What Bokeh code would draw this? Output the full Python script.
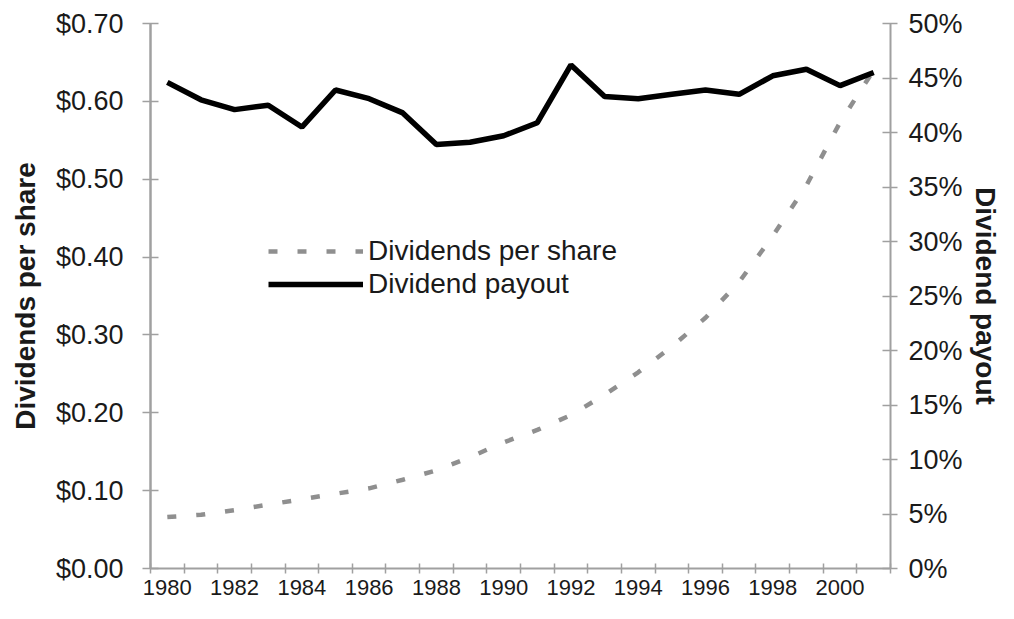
from bokeh.plotting import figure
from bokeh.models import (Range1d, LinearAxis, FixedTicker, NumeralTickFormatter,
                          Legend, LegendItem, ColumnDataSource)
from bokeh.embed import file_html
from bokeh.resources import INLINE

# ---- data ----
years = list(range(1980, 2002))
dividends_per_share = [0.066, 0.069, 0.075, 0.082, 0.089, 0.096, 0.103, 0.114,
                       0.126, 0.143, 0.162, 0.178, 0.197, 0.223, 0.252, 0.285,
                       0.322, 0.368, 0.427, 0.492, 0.573, 0.640]
dividend_payout = [0.446, 0.430, 0.421, 0.425, 0.405, 0.439, 0.431, 0.418,
                   0.389, 0.391, 0.397, 0.409, 0.462, 0.433, 0.431, 0.435,
                   0.439, 0.435, 0.452, 0.458, 0.443, 0.455]
year_labels = list(range(1980, 2001, 2))
left_ticks = [0.0, 0.1, 0.2, 0.3, 0.4, 0.5, 0.6, 0.7]
right_ticks = [0.0, 0.05, 0.10, 0.15, 0.20, 0.25, 0.30, 0.35, 0.40, 0.45, 0.50]

FONT = "Liberation Sans"
AXIS_GRAY = "#a0a0a0"
TEXT = "#1a1a1a"

src = ColumnDataSource(dict(year=years, dps=dividends_per_share, payout=dividend_payout))

p = figure(frame_width=740, frame_height=545, output_backend="svg", toolbar_location=None,
           x_range=Range1d(years[0] - 0.5, years[-1] + 0.5),
           y_range=Range1d(0, 0.7),
           min_border_left=150, min_border_right=107,
           min_border_top=23, min_border_bottom=35)
p.extra_y_ranges = {"pct": Range1d(0, 0.5)}
p.outline_line_color = None
p.xgrid.visible = False
p.ygrid.visible = False
p.background_fill_color = "white"
p.border_fill_color = "white"

# x axis: labels at category centres, ticks between categories
xa = p.xaxis[0]
xa.ticker = FixedTicker(ticks=year_labels,
                        minor_ticks=[y - 0.5 for y in years] + [years[-1] + 0.5])
xa.major_tick_in = 0
xa.major_tick_out = 0
xa.minor_tick_in = 5
xa.minor_tick_out = 5
xa.minor_tick_line_color = AXIS_GRAY
xa.minor_tick_line_width = 1.5
xa.axis_line_color = AXIS_GRAY
xa.axis_line_width = 2
xa.major_label_text_font = FONT
xa.major_label_text_font_size = "22px"
xa.major_label_text_color = TEXT
xa.major_label_standoff = 6

# left axis
ya = p.yaxis[0]
ya.ticker = FixedTicker(ticks=left_ticks, minor_ticks=[])
ya.formatter = NumeralTickFormatter(format="$0.00")
ya.major_tick_in = 8
ya.major_tick_out = 8
ya.major_tick_line_color = AXIS_GRAY
ya.major_tick_line_width = 1.5
ya.minor_tick_line_color = None
ya.axis_line_color = AXIS_GRAY
ya.axis_line_width = 2.5
ya.major_label_text_font = FONT
ya.major_label_text_font_size = "27px"
ya.major_label_text_color = TEXT
ya.major_label_standoff = 19
ya.axis_label = "Dividends per share"
ya.axis_label_text_font = FONT
ya.axis_label_text_font_style = "bold"
ya.axis_label_text_font_size = "28px"
ya.axis_label_text_color = TEXT
ya.axis_label_standoff = 12

# right axis
ra = LinearAxis(y_range_name="pct")
ra.ticker = FixedTicker(ticks=right_ticks, minor_ticks=[])
ra.formatter = NumeralTickFormatter(format="0%")
ra.major_tick_in = 8
ra.major_tick_out = 7
ra.major_tick_line_color = AXIS_GRAY
ra.major_tick_line_width = 1.5
ra.minor_tick_line_color = None
ra.axis_line_color = AXIS_GRAY
ra.axis_line_width = 2
ra.major_label_text_font = FONT
ra.major_label_text_font_size = "27px"
ra.major_label_text_color = TEXT
ra.major_label_standoff = 11
ra.axis_label = "Dividend payout"
ra.axis_label_text_font = FONT
ra.axis_label_text_font_style = "bold"
ra.axis_label_text_font_size = "28px"
ra.axis_label_text_color = TEXT
ra.axis_label_standoff = 4
p.add_layout(ra, "right")

# lines
r_dps = p.line("year", "dps", source=src, line_color="#8f8f8f", line_width=4.5,
               line_dash="9 20")
r_pay = p.line("year", "payout", source=src, y_range_name="pct",
               line_color="black", line_width=5.5)

legend = Legend(items=[LegendItem(label="Dividends per share", renderers=[r_dps]),
                       LegendItem(label="Dividend payout", renderers=[r_pay])],
                location=(118, 268), orientation="vertical",
                border_line_alpha=0, background_fill_alpha=0,
                padding=0, margin=0, spacing=1,
                glyph_width=95, glyph_height=30, label_height=30,
                label_standoff=5,
                label_text_font=FONT, label_text_font_size="28px",
                label_text_color=TEXT)
p.add_layout(legend)

open("out.html", "w").write(file_html(p, INLINE))
